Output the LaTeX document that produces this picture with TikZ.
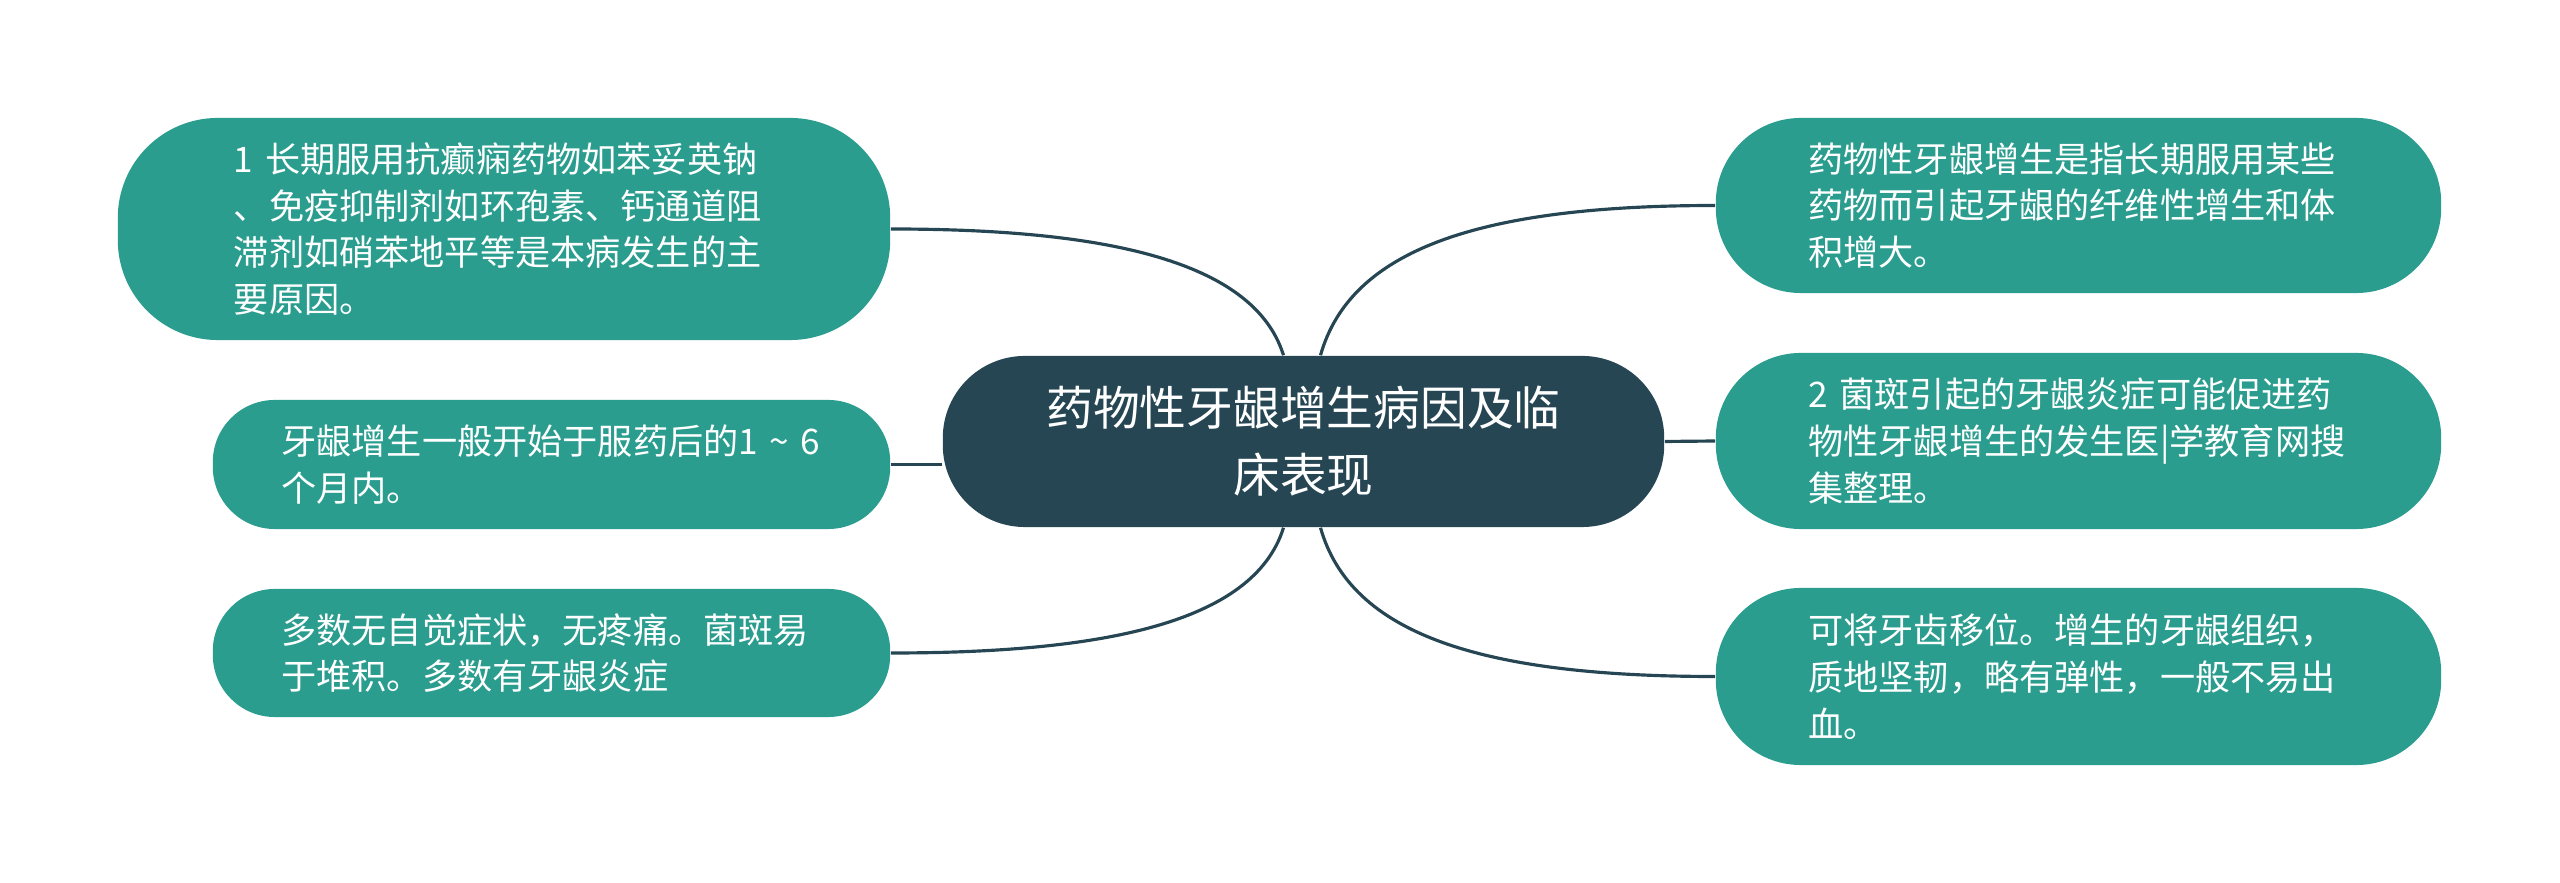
\documentclass[tikz,border=0pt]{standalone}
\usepackage{fontspec}
\newfontfamily\cjk{Noto Sans CJK SC}
\definecolor{rootblue}{HTML}{264653}
\definecolor{leafgreen}{HTML}{2A9D8F}

\begin{document}
\begin{tikzpicture}[x=0.01cm,y=-0.01cm,
    link/.style={draw=rootblue,line width=.9pt},
    leaf/.style={fill=leafgreen,text=white,align=left,text width=5.4cm,
      font=\cjk\fontsize{10}{13.3}\selectfont},
    root/.style={fill=rootblue,text=white,align=center,text width=5.3cm,
      inner xsep=0.955cm,minimum height=1.71cm,rounded corners=0.82cm,
      font=\cjk\fontsize{13.3}{19}\selectfont}]
          \useasboundingbox (0,0) rectangle (2560,883);

          \node [root] (root) at (1303.5, 441.5) {药物性牙龈增生病因及临\\床表现};

          \node [leaf, inner xsep=1.16cm, minimum height=2.22cm, rounded corners=1cm] (ltop) at (504, 229)
            {1 长期服用抗癫痫药物如苯妥英钠\\、免疫抑制剂如环孢素、钙通道阻\\滞剂如硝苯地平等是本病发生的主\\要原因。};
          \node [leaf, inner xsep=0.685cm, minimum height=1.29cm, rounded corners=0.62cm] (lmid) at (551.5, 464.5)
            {牙龈增生一般开始于服药后的1 \textasciitilde{} 6\\个月内。};
          \node [leaf, inner xsep=0.685cm, minimum height=1.28cm, rounded corners=0.62cm] (lbot) at (551.5, 653)
            {多数无自觉症状，无疼痛。菌斑易\\于堆积。多数有牙龈炎症};

          \node [leaf, inner xsep=0.925cm, minimum height=1.75cm, rounded corners=0.85cm] (rtop) at (2078.5, 205.5)
            {药物性牙龈增生是指长期服用某些\\药物而引起牙龈的纤维性增生和体\\积增大。};
          \node [leaf, inner xsep=0.925cm, minimum height=1.76cm, rounded corners=0.85cm] (rmid) at (2078.5, 441)
            {2 菌斑引起的牙龈炎症可能促进药\\物性牙龈增生的发生医|学教育网搜\\集整理。};
          \node [leaf, inner xsep=0.925cm, minimum height=1.77cm, rounded corners=0.85cm] (rbot) at (2078.5, 676.5)
            {可将牙齿移位。增生的牙龈组织，\\质地坚韧，略有弹性，一般不易出\\血。};

          \draw [link] ([xshift=-0.2cm]root.north) .. controls +(-30,-96) and +(210,0) .. (ltop.east);
          \draw [link] (lmid.east) -- (lmid.east -| root.west);
          \draw [link] ([xshift=-0.2cm]root.south) .. controls +(-30,96) and +(210,0) .. (lbot.east);
          \draw [link] ([xshift=0.17cm]root.north) .. controls +(30,-106) and +(-235,0) .. (rtop.west);
          \draw [link] (root.east) -- (rmid.west);
          \draw [link] ([xshift=0.17cm]root.south) .. controls +(30,106) and +(-235,0) .. (rbot.west);

      \end{tikzpicture}
\end{document}
